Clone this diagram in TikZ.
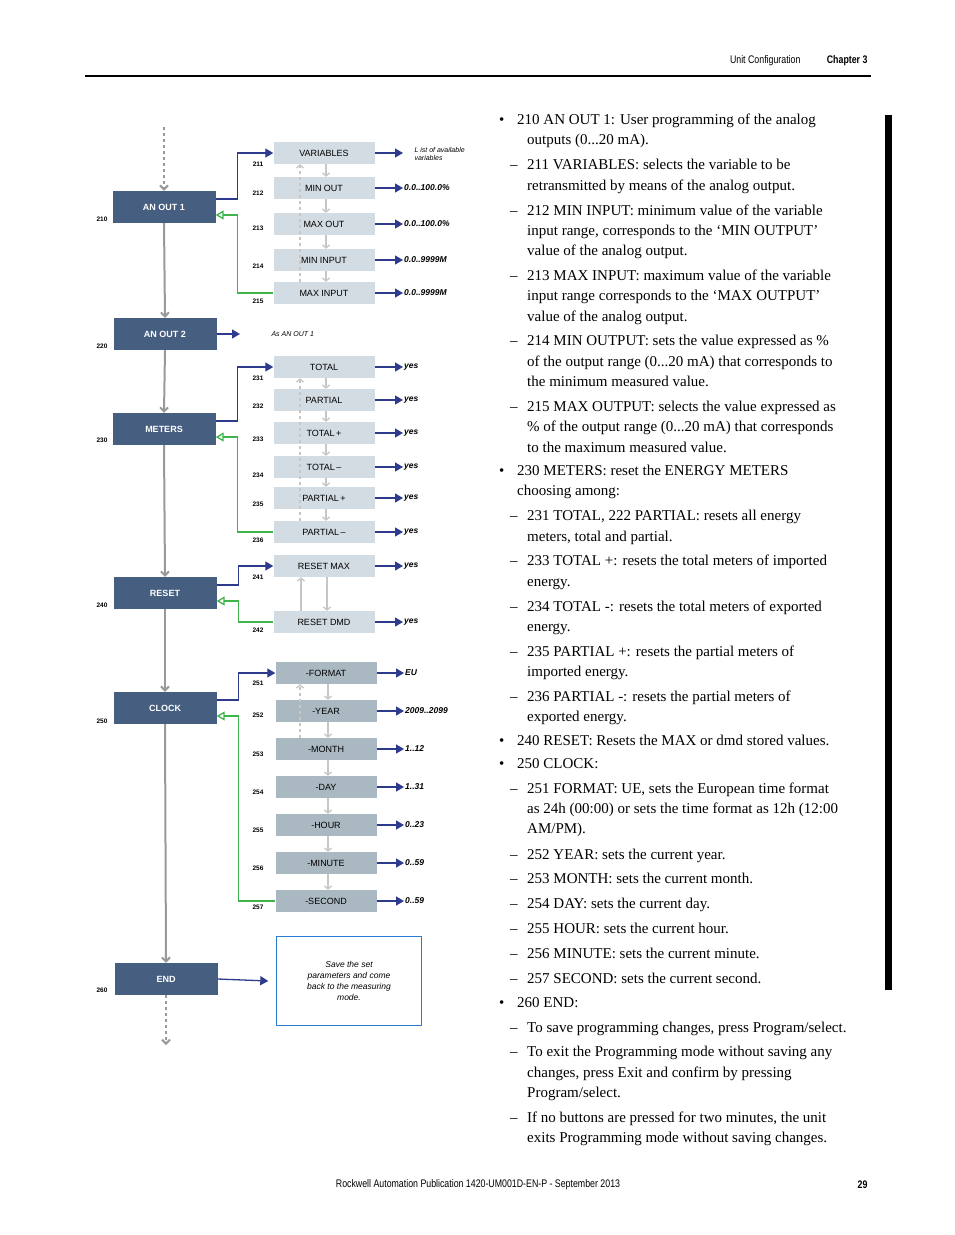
\documentclass[tikz,border=0pt]{standalone}
\usepackage{fontspec}
\setmainfont{Liberation Serif}
\setsansfont{Liberation Sans}
\newfontfamily\condfont[FakeStretch=0.8]{Liberation Sans}
\usetikzlibrary{arrows.meta}
\definecolor{boxblue}{HTML}{465E80}
\definecolor{subgrey}{HTML}{D3DCE3}
\definecolor{clockgrey}{HTML}{AAB8C1}
\definecolor{flowblue}{HTML}{2E3A8C}
\definecolor{backgreen}{HTML}{3DB54A}
\definecolor{notebl}{HTML}{2B7BD0}
\newcommand{\bodyline}[2]{\node[bodytxt] at (527,#1) {#2};}
\newcommand{\bulletline}[2]{\node[bodytxt] at (517,#1) {#2}; \node[bodytxt] at (499,#1) {\textbullet};}
\newcommand{\dashline}[2]{\node[bodytxt] at (527,#1) {#2}; \node[bodytxt] at (510,#1) {--};}

\begin{document}
\begin{tikzpicture}[x=1pt, y=-1pt,
mainbox/.style={rectangle, fill=boxblue, text=white, font=\sffamily\bfseries\fontsize{9}{10}\selectfont, minimum width=103pt, minimum height=32pt, inner sep=0pt},
subbox/.style={rectangle, fill=subgrey, font=\sffamily\fontsize{9}{10}\selectfont, minimum width=101pt, minimum height=22pt, inner sep=0pt},
clockbox/.style={subbox, fill=clockgrey},
numlbl/.style={font=\sffamily\bfseries\fontsize{6.5}{7}\selectfont, inner sep=0pt},
vallbl/.style={anchor=west, font=\sffamily\bfseries\itshape\fontsize{8.5}{9}\selectfont, inner sep=1pt},
flow/.style={draw=flowblue, line width=1.3pt, -{Triangle[length=8pt,width=9pt]}},
back/.style={draw=backgreen, line width=1.3pt, -{Triangle[open,length=8pt,width=9pt]}},
spine/.style={draw=gray!80, line width=2pt, -{Straight Barb[length=4pt,width=8pt]}},
stepdown/.style={draw=gray!45, line width=1.3pt, -{Straight Barb[length=3pt,width=7pt]}},
stepup/.style={stepdown, dashed},
bodytxt/.style={anchor=west, inner sep=0pt, text height=10pt, text depth=3pt, font=\fontsize{15}{18}\selectfont},
]
\useasboundingbox (0,0) rectangle (954,1235);

% header and footer
\node[anchor=east, font=\condfont\fontsize{11}{12}\selectfont] (hdr) at (804,61) {Unit Configuration};
\node[anchor=east, font=\condfont\bfseries\fontsize{11}{12}\selectfont] (chap) at (871,61) {Chapter 3};
\draw[line width=2.5pt] (85,76) -- (871,76);
\fill (885,115) rectangle (892,990);
\node[font=\condfont\fontsize{11}{12}\selectfont] (foot) at (478,1185) {Rockwell Automation Publication 1420-UM001D-EN-P - September 2013};
\node[anchor=east, font=\condfont\bfseries\fontsize{11}{12}\selectfont] (page) at (871,1185) {29};

%Main nodes
\node[mainbox] (ao1)    at (164,207) {AN OUT 1};
\node[mainbox] (ao2)    at (165,334) {AN OUT 2};
\node[mainbox] (meters) at (164,429) {METERS};
\node[mainbox] (reset)  at (165,593) {RESET};
\node[mainbox] (clock)  at (165,708) {CLOCK};
\node[mainbox] (fin)    at (166,979) {END};
\foreach \nm/\y in {210/219, 220/346, 230/440, 240/605, 250/721, 260/990}
  \node[numlbl] (n\nm) at (102,\y) {\nm};

%Spine
\coordinate (top) at (164,127);
\coordinate (bottom) at (166,1045);
\draw[spine, dashed] (top) -- (ao1.north);
\draw[spine] (ao1.south) -- (ao2.north);
\draw[spine] (ao2.south) -- (meters.north);
\draw[spine] (meters.south) -- (reset.north);
\draw[spine] (reset.south) -- (clock.north);
\draw[spine] (clock.south) -- (fin.north);
\draw[spine, dashed] (fin.south) -- (bottom);

%Sub nodes
\foreach \nm/\y/\txt/\ny/\val in {211/153/VARIABLES/164/, 212/188/MIN OUT/193/0.0..100.0\%, 213/224/MAX OUT/228/0.0..100.0\%, 214/260/MIN INPUT/266/0.0..9999M, 215/293/MAX INPUT/301/0.0..9999M,
  231/367/TOTAL/378/yes/no, 232/400/PARTIAL/406/yes/no, 233/433/TOTAL\,+/439/yes/no, 234/467/TOTAL\,--/475/yes/no, 235/498/PARTIAL\,+/504/yes/no, 236/532/PARTIAL\,--/540/yes/no,
  241/566/RESET MAX/577/yes/no, 242/622/RESET DMD/630/yes/no}
{
  \node[subbox] (s\nm) at (324,\y) {\txt};
  \node[numlbl] (n\nm) at (258,\ny) {\nm};
  \node[vallbl] (v\nm) at (403,\y) {\val};
  \draw[flow] (s\nm.east) -- (v\nm.west);
}
\foreach \nm/\y/\txt/\ny/\val in {251/673/-FORMAT/683/EU/USA, 252/711/-YEAR/715/2009..2099, 253/749/-MONTH/754/1..12, 254/787/-DAY/792/1..31, 255/825/-HOUR/830/0..23, 256/863/-MINUTE/868/0..59, 257/901/-SECOND/907/0..59}
{
  \node[clockbox] (s\nm) at (326,\y) {\txt};
  \node[numlbl] (n\nm) at (258,\ny) {\nm};
  \node[vallbl] (v\nm) at (404,\y) {\val};
  \draw[flow] (s\nm.east) -- (v\nm.west);
}
\node[anchor=west, align=left, font=\sffamily\itshape\fontsize{7}{8.5}\selectfont] (vlist) at (411,154) {L ist of available\\variables};
\node[vallbl] (v252b) at (406,705) {};

%Steps inside groups
\foreach \a/\b in {211/212, 212/213, 213/214, 214/215, 231/232, 232/233, 233/234, 234/235, 235/236, 251/252, 252/253, 253/254, 254/255, 255/256, 256/257}
  \draw[stepdown] ([xshift=2pt]s\a.south) -- ([xshift=2pt]s\b.north);
\draw[stepdown] ([xshift=3pt]s241.south) -- ([xshift=3pt]s242.north);
\draw[stepup] ([xshift=-24pt]s215.north) -- ([xshift=-24pt]s211.south);
\draw[stepup] ([xshift=-24pt]s236.north) -- ([xshift=-24pt]s231.south);
\draw[stepdown] ([xshift=-23pt]s242.north) -- ([xshift=-23pt]s241.south);
\draw[stepup] ([xshift=-26pt]s253.north) -- ([xshift=-26pt]s251.south);

%Enter and back
\draw[flow] ([yshift=8pt]ao1.east) -- ++(22,0) |- (s211.west);
\draw[back] (s215.west) -| ([xshift=22pt,yshift=-8pt]ao1.east) -- ([yshift=-8pt]ao1.east);
\draw[flow] ([yshift=8pt]meters.east) -- ++(22,0) |- (s231.west);
\draw[back] (s236.west) -| ([xshift=22pt,yshift=-8pt]meters.east) -- ([yshift=-8pt]meters.east);
\draw[flow] ([yshift=8pt]reset.east) -- ++(22,0) |- (s241.west);
\draw[back] (s242.west) -| ([xshift=22pt,yshift=-8pt]reset.east) -- ([yshift=-8pt]reset.east);
\draw[flow] ([yshift=8pt]clock.east) -- ++(22,0) |- (s251.west);
\draw[back] (s257.west) -| ([xshift=22pt,yshift=-8pt]clock.east) -- ([yshift=-8pt]clock.east);

%AN OUT 2 and END
\node[anchor=west, font=\sffamily\itshape\fontsize{7}{8}\selectfont] (asao1) at (268,334) {As AN OUT 1};
\coordinate (ao2end) at (240,334);
\draw[flow] (ao2.east) -- (ao2end);
\node[draw=notebl, minimum width=145pt, minimum height=89pt, align=center, font=\sffamily\itshape\fontsize{8.5}{11}\selectfont] (note) at (349,981) {Save the set\\parameters and come\\back to the measuring\\mode.};
\draw[flow] (fin.east) -- ([xshift=-8pt]note.west);

%Text column
\bulletline{121}{210 AN OUT 1: User programming of the analog}
\bodyline{141}{outputs (0...20 mA).}
\dashline{166}{211 VARIABLES: selects the variable to be}
\bodyline{187}{retransmitted by means of the analog output.}
\dashline{212}{212 MIN INPUT: minimum value of the variable}
\bodyline{232}{input range, corresponds to the ‘MIN OUTPUT’}
\bodyline{252}{value of the analog output.}
\dashline{277}{213 MAX INPUT: maximum value of the variable}
\bodyline{297}{input range corresponds to the ‘MAX OUTPUT’}
\bodyline{318}{value of the analog output.}
\dashline{342}{214 MIN OUTPUT: sets the value expressed as \%}
\bodyline{363}{of the output range (0...20 mA) that corresponds to}
\bodyline{383}{the minimum measured value.}
\dashline{408}{215 MAX OUTPUT: selects the value expressed as}
\bodyline{428}{\% of the output range (0...20 mA) that corresponds}
\bodyline{449}{to the maximum measured value.}
\bulletline{472}{230 METERS: reset the ENERGY METERS}
\node[bodytxt] at (517,492) {choosing among:};
\dashline{517}{231 TOTAL, 222 PARTIAL: resets all energy}
\bodyline{538}{meters, total and partial.}
\dashline{562}{233 TOTAL +: resets the total meters of imported}
\bodyline{583}{energy.}
\dashline{608}{234 TOTAL -: resets the total meters of exported}
\bodyline{628}{energy.}
\dashline{653}{235 PARTIAL +: resets the partial meters of}
\bodyline{673}{imported energy.}
\dashline{698}{236 PARTIAL -: resets the partial meters of}
\bodyline{718}{exported energy.}
\bulletline{742}{240 RESET: Resets the MAX or dmd stored values.}
\bulletline{765}{250 CLOCK:}
\dashline{790}{251 FORMAT: UE, sets the European time format}
\bodyline{810}{as 24h (00:00) or sets the time format as 12h (12:00}
\bodyline{830}{AM/PM).}
\dashline{856}{252 YEAR: sets the current year.}
\dashline{880}{253 MONTH: sets the current month.}
\dashline{905}{254 DAY: sets the current day.}
\dashline{930}{255 HOUR: sets the current hour.}
\dashline{955}{256 MINUTE: sets the current minute.}
\dashline{980}{257 SECOND: sets the current second.}
\bulletline{1004}{260 END:}
\dashline{1029}{To save programming changes, press Program/select.}
\dashline{1053}{To exit the Programming mode without saving any}
\bodyline{1074}{changes, press Exit and confirm by pressing}
\bodyline{1094}{Program/select.}
\dashline{1119}{If no buttons are pressed for two minutes, the unit}
\bodyline{1139}{exits Programming mode without saving changes.}
\end{tikzpicture}
\end{document}
